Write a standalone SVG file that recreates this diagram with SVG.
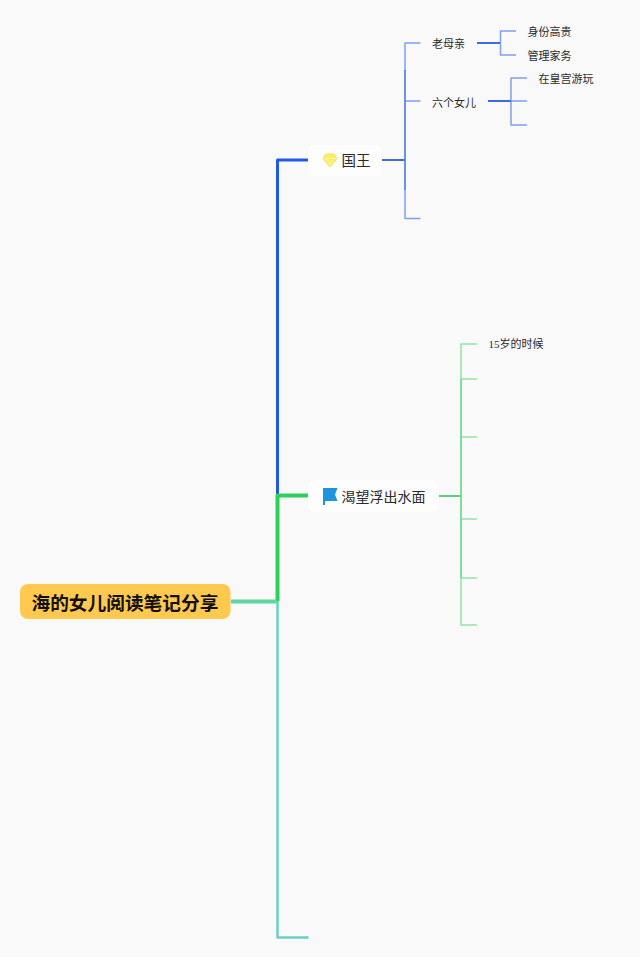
<svg xmlns="http://www.w3.org/2000/svg" width="640" height="957" viewBox="0 0 640 957">
<style>
text{font-family:"Noto Sans CJK SC","Liberation Sans",sans-serif;fill:#2a2a2a;dominant-baseline:central}
.c{fill:none;stroke-linejoin:round}
.s{font-size:11px}
.m{font-size:14.5px}
.b1{stroke:#3d6be8;stroke-width:2}
.b2{stroke:#7f9ff0;stroke-width:1.5}
.g1{stroke:#55d278;stroke-width:2}
.g2{stroke:#8ee5a2;stroke-width:1.5}
</style>
<rect width="640" height="957" fill="#f9f9fa"/>
<g id="connectors">
<path class="c" d="M277.500 600V160H308" stroke="#2258ea" stroke-width="3"/>
<path class="c" d="M277.500 600V937.500H308.500" stroke="#68d0c4" stroke-width="2.500"/>
<path class="c" d="M277.500 601V495.500H308" stroke="#2fd058" stroke-width="4"/>
<path class="c" d="M231 601.500H277" stroke="#5fd6a0" stroke-width="4"/>
<path class="c b2" d="M420.500 43H405V218.500H420.500M405 101H420.500"/>
<path class="c b1" d="M382 160H405"/>
<path class="c" d="M405 70V190" stroke="#5c85ec" stroke-width="1.500"/>
<path class="c b2" d="M516 31H500.500V55H516"/>
<path class="c b1" d="M477 43H500"/>
<path class="c b2" d="M527 78H511V125H527M511 101H527"/>
<path class="c b1" d="M488 101H511"/>
<path class="c g2" d="M477 344H461V625H477M461 379H477M461 437H477M461 519H477M461 578H477"/>
<path class="c g1" d="M439 496H461"/>
<path class="c" d="M461 379V578" stroke="#6fdb8c" stroke-width="1.500"/>
</g>
<g id="root"><rect x="20" y="584" width="210.500" height="35" rx="8" fill="#ffc84e"/><text x="31.500" y="601.500" font-size="18.700" font-weight="700" style="fill:#111">海的女儿阅读笔记分享</text></g>
<g id="n-king"><rect x="308" y="145" width="74" height="31" rx="5" fill="#fdfdfd"/>
<path d="M326 154H334L337 158.500L330 167L323 158.500Z" fill="#fbee6a" stroke="#f6e04a" stroke-width="1"/><path d="M323.500 158.500H336.500M327 158.500L330 166L333 158.500" fill="none" stroke="#fff8b0" stroke-width=".7"/>
<text class="m" x="341.500" y="159.500">国王</text></g>
<g id="n-mother"><text class="s" x="432" y="42.500">老母亲</text></g>
<g id="n-noble"><text class="s" x="527.500" y="31">身份高贵</text></g>
<g id="n-house"><text class="s" x="527.500" y="54.500">管理家务</text></g>
<g id="n-daughters"><text class="s" x="432" y="101.500">六个女儿</text></g>
<g id="n-palace"><text class="s" x="538.500" y="78">在皇宫游玩</text></g>
<g id="n-desire"><rect x="308" y="480" width="131" height="32" rx="6" fill="#fdfdfd"/>
<path d="M323 488H337.500L335 494.500L337.500 501H325V505H323Z" fill="#1e94de"/>
<text class="m" x="341.500" y="495.500" style="font-size:14px">渴望浮出水面</text></g>
<g id="n-fifteen"><text class="s" x="488.500" y="344" style="font-family:'Liberation Serif','Noto Sans CJK SC',serif">15岁的时候</text></g>
</svg>
